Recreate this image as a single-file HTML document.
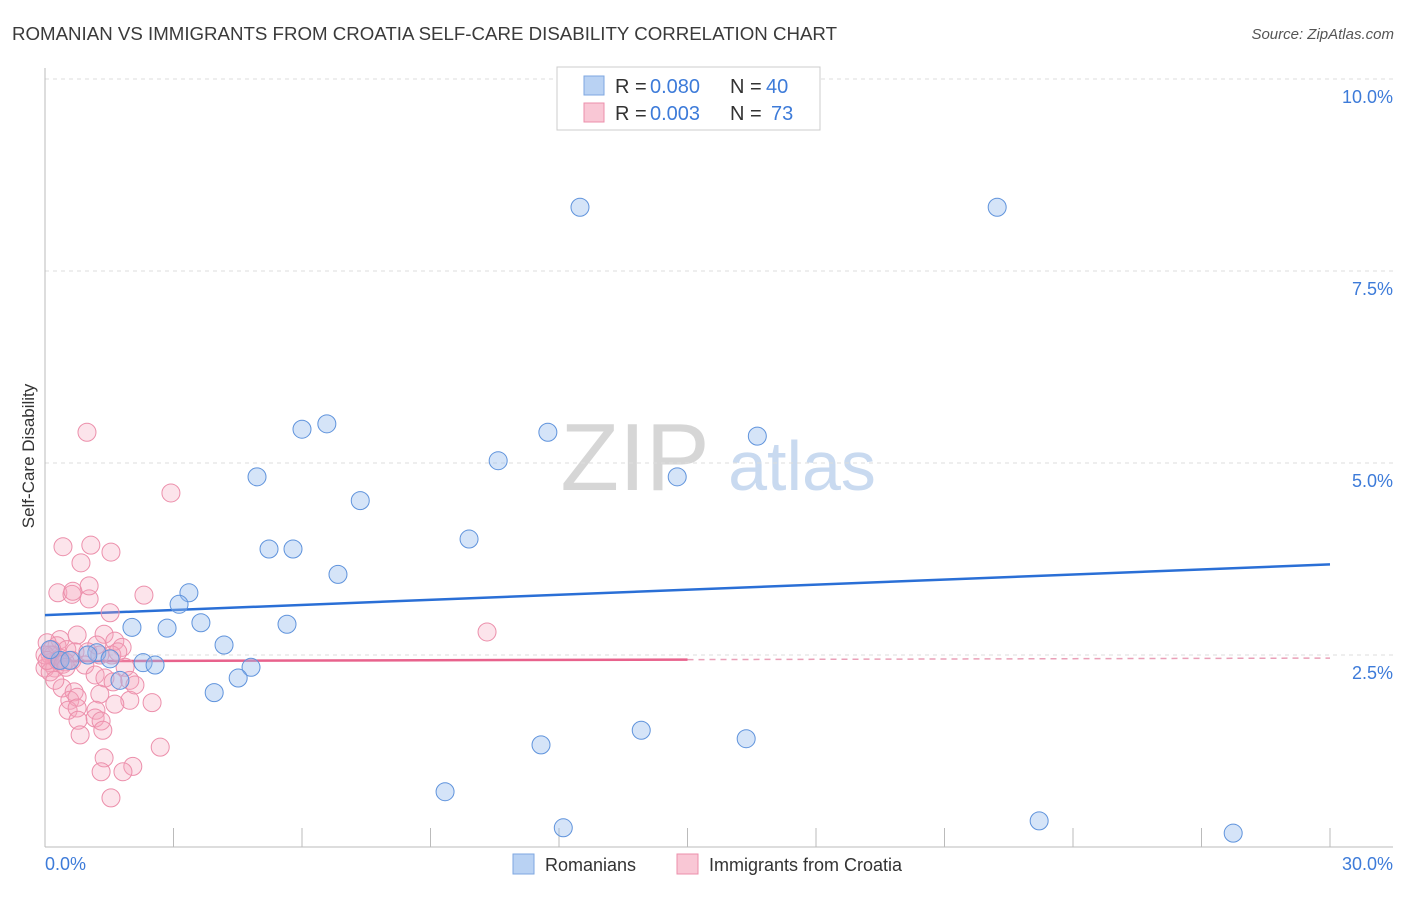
<!DOCTYPE html>
<html><head><meta charset="utf-8"><style>
body{margin:0;background:#fff;font-family:"Liberation Sans",sans-serif}
svg text{font-family:"Liberation Sans",sans-serif}
</style></head><body>
<svg id="chart" width="1406" height="892" viewBox="0 0 1406 892" xmlns="http://www.w3.org/2000/svg">
<text x="12" y="40" font-size="18" fill="#3a3a3a" textLength="825" lengthAdjust="spacingAndGlyphs">ROMANIAN VS IMMIGRANTS FROM CROATIA SELF-CARE DISABILITY CORRELATION CHART</text>
<text x="1394" y="39" font-size="15" fill="#555" font-style="italic" text-anchor="end">Source: ZipAtlas.com</text>
<g>
<text x="635" y="490" font-size="96" fill="#d6d6d6" font-family="Liberation Serif,serif" text-anchor="middle">ZIP</text>
<text x="802" y="490" font-size="70" fill="#c9daf0" text-anchor="middle">atlas</text>
</g>
<g id="grid"></g>
<g id="axes"></g>
<g id="trends"></g>
<g id="points"></g>
<text transform="translate(34,456) rotate(-90)" font-size="17" fill="#333" text-anchor="middle">Self-Care Disability</text>
<g>
<rect x="557" y="67" width="263" height="63" fill="#fff" stroke="#ccc"/>
<rect x="584" y="76" width="20" height="19" fill="#b9d2f3" stroke="#7ea7e0"/>
<text x="615" y="93" font-size="20" fill="#333">R =</text>
<text x="650" y="93" font-size="20" fill="#3d7bd9">0.080</text>
<text x="730" y="93" font-size="20" fill="#333">N =</text>
<text x="766" y="93" font-size="20" fill="#3d7bd9">40</text>
<rect x="584" y="103" width="20" height="19" fill="#f9c7d5" stroke="#ec8fab"/>
<text x="615" y="120" font-size="20" fill="#333">R =</text>
<text x="650" y="120" font-size="20" fill="#3d7bd9">0.003</text>
<text x="730" y="120" font-size="20" fill="#333">N =</text>
<text x="771" y="120" font-size="20" fill="#3d7bd9">73</text>
</g>
<g>
<rect x="513" y="854" width="21" height="20" fill="#b9d2f3" stroke="#7ea7e0"/>
<text x="545" y="871" font-size="18" fill="#333">Romanians</text>
<rect x="677" y="854" width="21" height="20" fill="#f9c7d5" stroke="#ec8fab"/>
<text x="709" y="871" font-size="18" fill="#333">Immigrants from Croatia</text>
</g>
</svg>
<script>
const yTicks=[2.5,5,7.5,10];
const yTickLabels=["2.5%","5.0%","7.5%","10.0%"];
const xTickLabels=["0.0%","30.0%"];
const blueX=[12.49,22.23,6.58,6.00,11.74,16.63,10.58,4.95,14.76,7.36,9.90,5.23,5.79,6.84,3.36,3.13,2.03,2.85,3.64,5.65,4.18,1.21,1.52,1.00,2.29,2.57,4.81,4.51,1.75,3.95,13.92,16.37,11.58,9.34,12.10,23.21,27.74,0.35,0.58,0.12];
const blueY=[8.33,8.33,5.51,5.44,5.40,5.35,5.03,4.82,4.82,4.51,4.01,3.88,3.88,3.55,3.31,3.16,2.86,2.85,2.92,2.90,2.63,2.53,2.45,2.50,2.40,2.37,2.34,2.20,2.17,2.01,1.52,1.41,1.33,0.72,0.25,0.34,0.18,2.43,2.43,2.57];
const pinkX=[0.98,2.94,10.32,0.42,1.07,1.54,0.84,0.30,0.63,1.03,0.65,1.03,2.31,1.52,1.38,0.35,0.75,0.05,0.28,1.21,1.63,1.80,0.51,0.19,0.35,0.70,1.00,1.28,1.56,1.70,0.12,0.23,0.47,0.63,0,0.12,0.93,1.87,1.17,1.40,1.59,1.98,0.40,0.68,0.58,0.75,1.28,1.98,0.54,0.75,1.19,1.63,2.50,0.77,1.17,1.31,0.82,1.35,2.69,1.38,2.05,1.31,1.82,1.54,0.12,0.30,0,0.16,0.05,0.42,0.23,0.49,2.10];
const pinkY=[5.40,4.61,2.80,3.91,3.93,3.84,3.70,3.31,3.29,3.23,3.33,3.40,3.28,3.05,2.77,2.70,2.76,2.66,2.62,2.63,2.68,2.60,2.57,2.50,2.46,2.54,2.54,2.50,2.50,2.54,2.40,2.33,2.41,2.43,2.33,2.28,2.37,2.34,2.24,2.20,2.15,2.17,2.07,2.02,1.91,1.95,1.99,1.91,1.78,1.81,1.78,1.86,1.88,1.65,1.68,1.64,1.46,1.52,1.30,1.16,1.05,0.98,0.98,0.64,2.50,2.43,2.50,2.57,2.43,2.38,2.17,2.34,2.11];
const blueTrend=[3.02,3.68];
const pinkTrend=[2.42,2.46];
const pinkSolidEnd=15.0;

const X0=45,X1=1330,Y0=847,YT=79;
const sx=v=>X0+v/30*(X1-X0);
const sy=v=>Y0-v/10*(Y0-YT);
const NS="http://www.w3.org/2000/svg";
function mk(parent,tag,attrs){const e=document.createElementNS(NS,tag);for(const k in attrs)e.setAttribute(k,attrs[k]);document.getElementById(parent).appendChild(e);return e;}

yTicks.forEach((t,i)=>{
  const g=mk('grid','line',{x1:X0,x2:1393,y1:sy(t),y2:sy(t),stroke:'#ddd','stroke-dasharray':'4,4'});
  
  
  const l=mk('grid','text',{x:1393,y:sy(t)+24,'font-size':18,fill:'#3d7bd9','text-anchor':'end'});
  l.textContent=yTickLabels[i];
  
  
});
let a=mk('axes','line',{x1:X0,x2:X0,y1:68,y2:Y0,stroke:'#bbb'});


a=mk('axes','line',{x1:X0,x2:1393,y1:Y0,y2:Y0,stroke:'#bbb'});


for(let v=3;v<=30;v+=3){
  const t=mk('axes','line',{x1:sx(v),x2:sx(v),y1:Y0-19,y2:Y0,stroke:'#bbb'});
  
  
}
[[0,'start',X0],[30,'end',1393]].forEach((d,i)=>{
  const t=mk('axes','text',{x:d[2],y:870,'font-size':18,fill:'#3d7bd9','text-anchor':d[1]});
  t.textContent=xTickLabels[i];
  
  
});
let tl=mk('trends','line',{x1:sx(0),y1:sy(blueTrend[0]),x2:sx(30),y2:sy(blueTrend[1]),stroke:'#2a6fd6','stroke-width':2.5});


const py=x=>pinkTrend[0]+(pinkTrend[1]-pinkTrend[0])*x/30;
tl=mk('trends','line',{x1:sx(0),y1:sy(py(0)),x2:sx(pinkSolidEnd),y2:sy(py(pinkSolidEnd)),stroke:'#e8628c','stroke-width':2.5});


tl=mk('trends','line',{x1:sx(pinkSolidEnd),y1:sy(py(pinkSolidEnd)),x2:sx(30),y2:sy(py(30)),stroke:'#eaa0b8','stroke-width':1.5,'stroke-dasharray':'6,5'});


pinkX.forEach((x,i)=>{
  const c=mk('points','circle',{cx:sx(x),cy:sy(pinkY[i]),r:9,fill:'rgba(246,166,190,0.3)',stroke:'#ec8fab','stroke-width':1});
  
  
});
blueX.forEach((x,i)=>{
  const c=mk('points','circle',{cx:sx(x),cy:sy(blueY[i]),r:9,fill:'rgba(150,188,238,0.4)',stroke:'#5f93dc','stroke-width':1});
  
  
});
</script>
</body></html>
